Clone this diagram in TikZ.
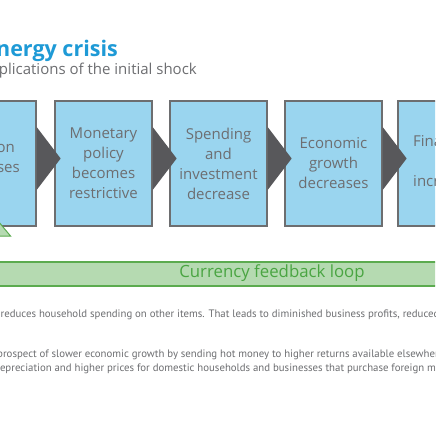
\documentclass[tikz,border=0pt]{standalone}
\usepackage{fontspec}
\setmainfont{Open Sans}
\newfontfamily\bodyfont{PT Sans}
\usetikzlibrary{calc}
\definecolor{boxfill}{HTML}{9AD5EF}
\definecolor{boxline}{HTML}{6D6E70}
\definecolor{chevcol}{HTML}{58585B}
\definecolor{txtgray}{HTML}{6D6E71}
\definecolor{titleblue}{HTML}{1E9AD6}
\definecolor{greenfill}{HTML}{B5DAB1}
\definecolor{greenline}{HTML}{5BAB4F}
\definecolor{greentext}{HTML}{4AA542}
\tikzset{
  stepbox/.style={draw=boxline, fill=boxfill, line width=1.3pt, minimum width=97pt, minimum height=125pt, inner sep=0pt, align=center, text=txtgray, font=\fontsize{15}{20}\selectfont},
  boxtext/.style={text=txtgray, font=\fontsize{15}{20}\selectfont, inner sep=0pt, align=center},
  chev/.style={fill=chevcol},
  bodytext/.style={text=txtgray, font=\bodyfont\fontsize{10.8}{13}\selectfont, inner sep=0pt},
}
\begin{document}
\begin{tikzpicture}[x=1pt,y=-1pt]
\clip (0,0) rectangle (435,435);
\fill[white] (0,0) rectangle (435,435);
% title
\node[anchor=base east, inner sep=0pt, text=titleblue, font=\fontsize{21.5}{26}\selectfont\bfseries] (title) at (118,57) {Energy crisis};
\node[anchor=base east, inner sep=0pt, text=txtgray, font=\fontsize{15}{18}\selectfont] (subtitle) at (197,75) {Implications of the initial shock};
% boxes
\node[stepbox] (b1) at (-12.5,163.5) {};
\node[stepbox] (b2) at (103.5,163.5) {Monetary\\policy\\becomes\\restrictive};
\node[stepbox] (b3) at (218.5,163.5) {Spending\\and\\investment\\decrease};
\node[stepbox] (b4) at (333.5,163.5) {Economic\\growth\\decreases};
\node[stepbox] (b5) at (446.5,163.5) {};
\node[boxtext, anchor=base east] (t1a) at (15,153) {Inflation};
\node[boxtext, anchor=base east] (t1b) at (20,173) {increases};
\node[boxtext, anchor=base west] (t5a) at (413,147) {Financial};
\node[boxtext, anchor=base west] (t5c) at (413,187) {increases};
% chevrons
\foreach \a in {b1,b2,b3,b4}{
  \fill[chev] ($(\a.east)+(0,-36.5)$) -- ($(\a.east)+(24,-5)$) -- ($(\a.east)+(0,26.5)$) -- cycle;
}
% green triangle
\coordinate (tri) at (-2,221);
\filldraw[fill=greenfill, draw=greenline, line width=1pt] (tri) -- ++(12.5,15) -- ++(-25,0) -- cycle;
% green bar
\node[draw=greenline, fill=greenfill, line width=1.2pt, minimum width=440pt, minimum height=24pt, inner sep=0pt] (bar) at (217.5,274) {};
\node[text=greentext, font=\fontsize{16.8}{20}\selectfont, inner sep=0pt] (barlabel) at (272,273) {Currency feedback loop};
% body text
\node[bodytext, anchor=base west] (p1) at (0.5,317) {reduces household spending on other items. That leads to diminished business profits, reduced};
\node[bodytext, anchor=base west] (p2) at (-3,357) {prospect of slower economic growth by sending hot money to higher returns available elsewhere};
\node[bodytext, anchor=base west] (p3) at (-6,371) {depreciation and higher prices for domestic households and businesses that purchase foreign materials};
\end{tikzpicture}
\end{document}
